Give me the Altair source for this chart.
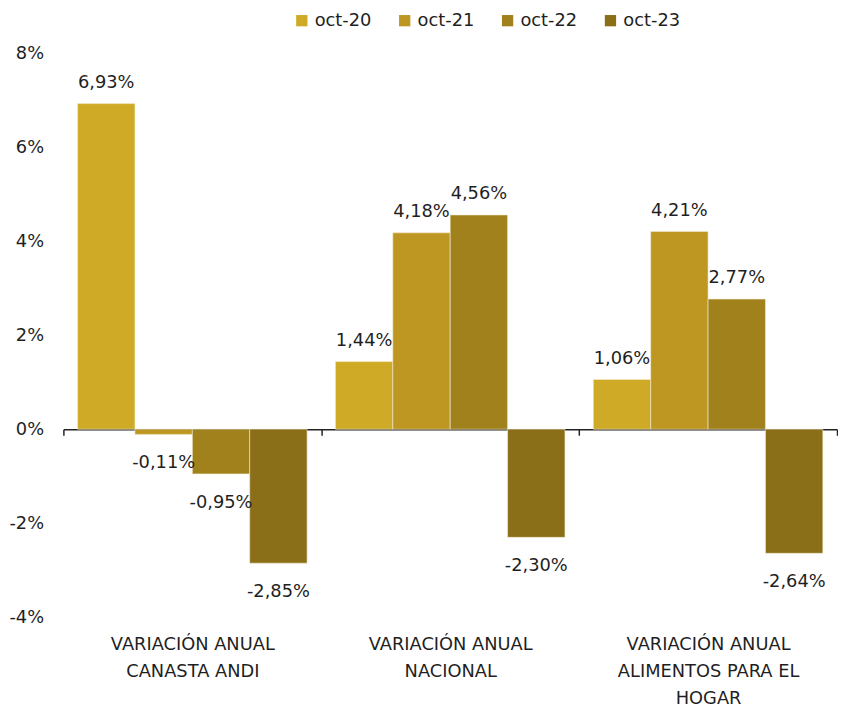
import altair as alt
import pandas as pd

categories = ["VARIACIÓN ANUAL|CANASTA ANDI", "VARIACIÓN ANUAL|NACIONAL", "VARIACIÓN ANUAL|ALIMENTOS PARA EL|HOGAR"]
series = ["oct-20", "oct-21", "oct-22", "oct-23"]
values = {
    "oct-20": [6.93, 1.44, 1.06],
    "oct-21": [-0.11, 4.18, 4.21],
    "oct-22": [-0.95, 4.56, 2.77],
    "oct-23": [-2.85, -2.30, -2.64],
}
colors = ["#CFAA26", "#BD9722", "#A0811C", "#8A6E18"]

rows = []
for s in series:
    for c, v in zip(categories, values[s]):
        rows.append({"cat": c, "serie": s, "val": v,
                     "lbl": f"{v:.2f}".replace(".", ",") + "%"})
df = pd.DataFrame(rows)

FONT = "DejaVu Sans"
FS = 18
TXT = "#1f1f1f"

x = alt.X("cat:N", sort=categories, title=None,
          scale=alt.Scale(paddingInner=0, paddingOuter=0),
          axis=alt.Axis(offset=-190, domainColor="#222222", domainWidth=1.5,
                        tickBand="extent", tickColor="#222222", tickSize=6, tickWidth=1.5,
                        labelExpr="datum.value ? split(datum.value, '|') : ''", labelAngle=0,
                        labelPadding=203, labelFontSize=FS, labelFont=FONT, labelLimit=0,
                        labelColor=TXT, labelLineHeight=27, labelBaseline="top"))
xo = alt.XOffset("serie:N", sort=series, scale=alt.Scale(paddingInner=0, paddingOuter=0.247))
y = alt.Y("val:Q", title=None,
          scale=alt.Scale(domain=[-4, 8], nice=False),
          axis=alt.Axis(values=[-4, -2, 0, 2, 4, 6, 8], grid=False, domain=False, ticks=False,
                        labelExpr="datum.value + '%'", labelFontSize=FS, labelFont=FONT,
                        labelColor=TXT, labelPadding=20))
color = alt.Color("serie:N", sort=series, title=None,
                  scale=alt.Scale(domain=series, range=colors),
                  legend=alt.Legend(orient="none", legendX=232, legendY=-42, direction="horizontal",
                                    symbolType="square", symbolSize=130, symbolStrokeWidth=0,
                                    labelFontSize=FS, labelFont=FONT, labelColor=TXT,
                                    columnPadding=24, labelOffset=4))

base = alt.Chart(df)
bars = base.mark_bar(stroke="#f3ecd2", strokeWidth=0.6).encode(x=x, xOffset=xo, y=y, color=color)
pos = base.transform_filter("datum.val >= 0").mark_text(
    baseline="bottom", dy=-12, fontSize=FS, font=FONT, color=TXT
).encode(x=x, xOffset=xo, y=y, text="lbl:N")
neg = base.transform_filter("datum.val < 0").mark_text(
    baseline="top", dy=20, fontSize=FS, font=FONT, color=TXT
).encode(x=x, xOffset=xo, y=y, text="lbl:N")

chart = alt.layer(bars, pos, neg).properties(
    width=782, height=570, padding={"left": 0, "top": 0, "right": 0, "bottom": 0}
).configure_view(stroke=None)

chart.save("out.html", embed_options={"renderer": "svg", "actions": False})
